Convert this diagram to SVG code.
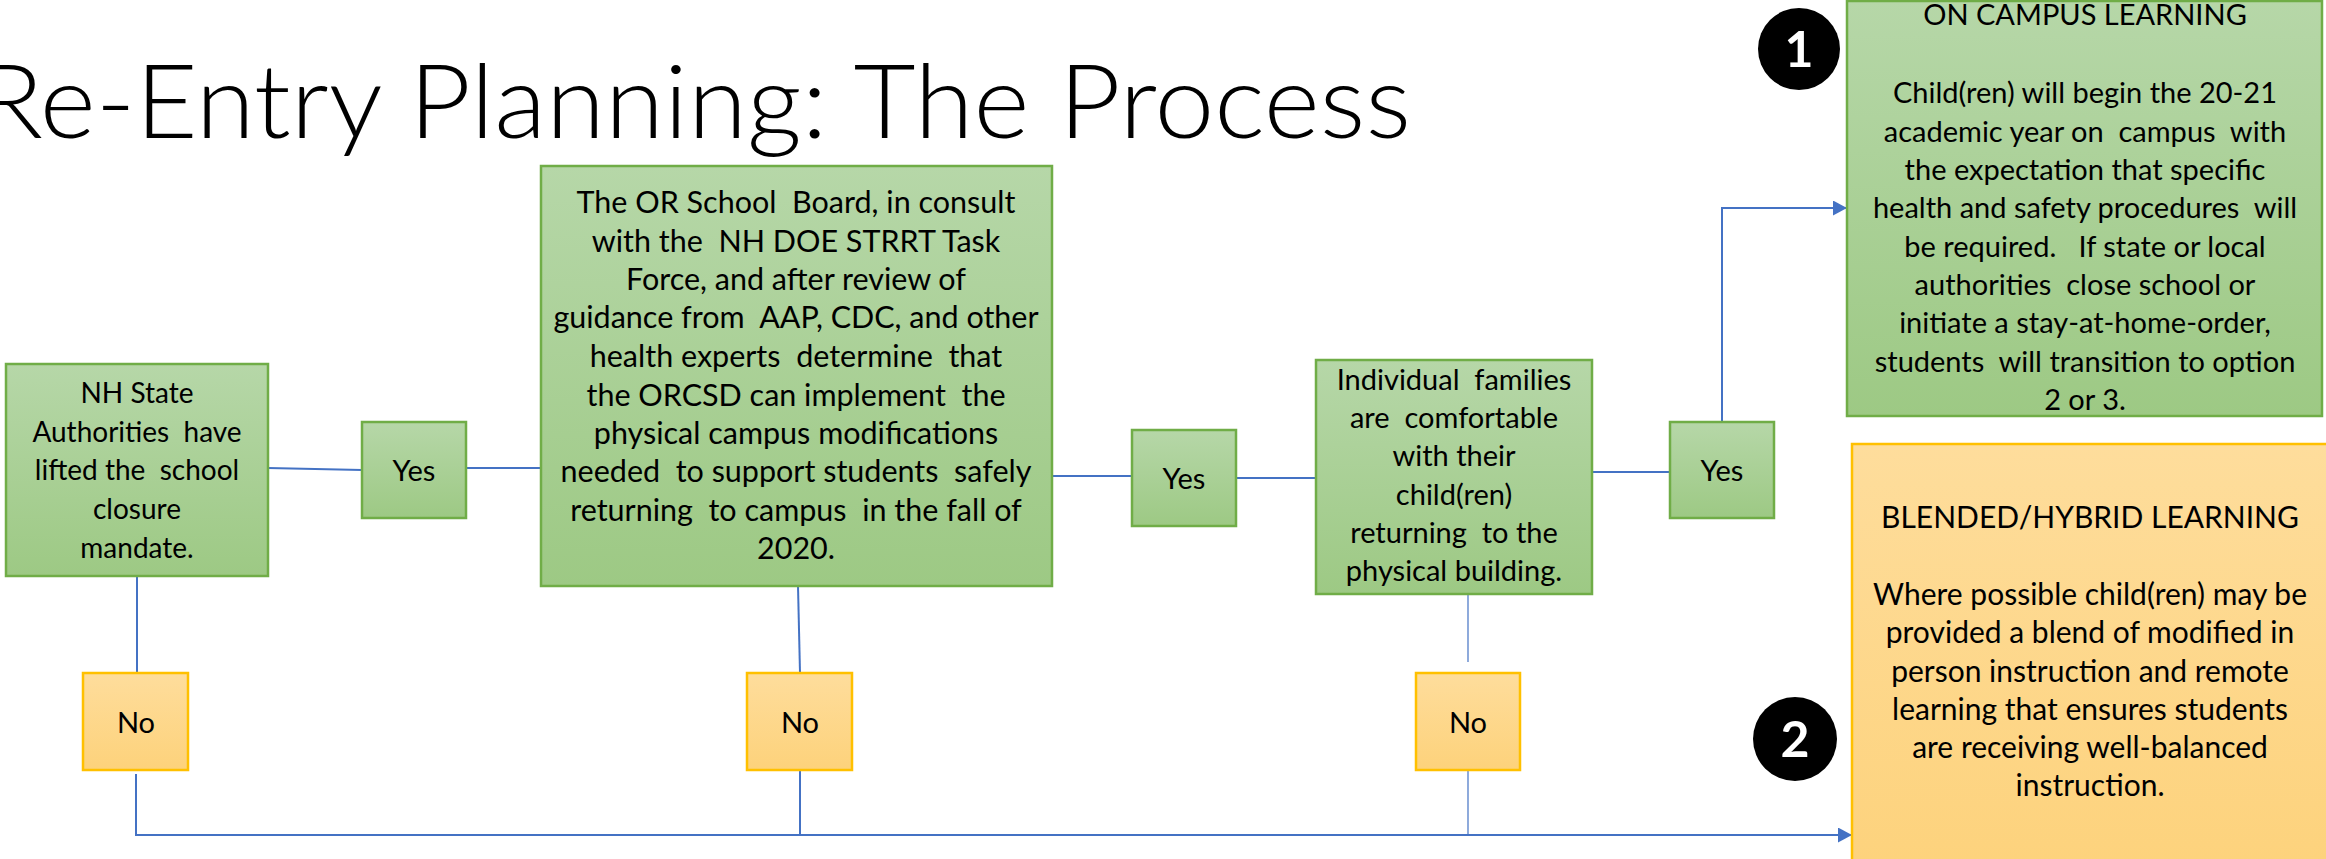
<svg xmlns="http://www.w3.org/2000/svg" width="2326" height="859" viewBox="0 0 2326 859">
<style>
.g{fill:url(#gg);stroke:#70ad47;stroke-width:2.5}
.o{fill:url(#og);stroke:#ffc000;stroke-width:2.5}
.t{font-family:Lato,"Liberation Sans",sans-serif;font-size:29px;fill:#000;text-anchor:middle;white-space:pre}
.c{fill:none;stroke:#4472c4;stroke-width:2}
.num{font-family:Lato,"Liberation Sans",sans-serif;font-size:50px;font-weight:bold;fill:#fff;text-anchor:middle}
.title{font-family:Lato,"Liberation Sans",sans-serif;font-weight:300;font-size:102px;fill:#000}
</style>
<defs>
<linearGradient id="gg" x1="0" y1="0" x2="0" y2="1"><stop offset="0" stop-color="#b6d7a8"/><stop offset="1" stop-color="#9dc984"/></linearGradient>
<linearGradient id="og" x1="0" y1="0" x2="0" y2="1"><stop offset="0" stop-color="#fedd9c"/><stop offset="1" stop-color="#fdd27b"/></linearGradient>
<marker id="ar" viewBox="0 0 14 15" refX="14" refY="7.5" markerWidth="14" markerHeight="15" markerUnits="userSpaceOnUse" orient="auto"><path d="M0 0L14 7.5L0 15z" fill="#4472c4"/></marker>
</defs>
<rect width="2326" height="859" fill="#fff"/>
<text class="title" x="-22" y="138" textLength="1433" lengthAdjust="spacingAndGlyphs">Re-Entry Planning: The Process</text>

<g id="connectors">
<path class="c" d="M268 468L362 470"/>
<path class="c" d="M466 468H541"/>
<path class="c" d="M1052 476H1132"/>
<path class="c" d="M1236 478H1316"/>
<path class="c" d="M1592 472H1670"/>
<path class="c" d="M1722 422V208H1847" marker-end="url(#ar)"/>
<path class="c" d="M137 576V673"/>
<path class="c" d="M798 586L800 673"/>
<path class="c" d="M1468 594V662" style="stroke-width:1.2"/>
<path class="c" d="M136 774V835H1852" marker-end="url(#ar)"/>
<path class="c" d="M800 770V835"/>
<path class="c" d="M1468 770V835" style="stroke-width:1.2"/>
</g>

<g id="n1">
<rect class="g" x="6" y="364" width="262" height="212"/>
<text class="t" style="font-size:28px"><tspan x="137" y="403">NH State</tspan><tspan x="137" y="442">Authorities  have</tspan><tspan x="137" y="480">lifted the  school</tspan><tspan x="137" y="519">closure</tspan><tspan x="137" y="558">mandate.</tspan></text>
</g>
<g id="yes1">
<rect class="g" x="362" y="422" width="104" height="96"/>
<text class="t" x="414" y="481">Yes</text>
</g>
<g id="n2">
<rect class="g" x="541" y="166" width="511" height="420"/>
<text class="t" style="font-size:30.5px"><tspan x="796" y="213">The OR School  Board, in consult</tspan><tspan x="796" y="252">with the  NH DOE STRRT Task</tspan><tspan x="796" y="290">Force, and after review of</tspan><tspan x="796" y="328">guidance from  AAP, CDC, and other</tspan><tspan x="796" y="367">health experts  determine  that</tspan><tspan x="796" y="406">the ORCSD can implement  the</tspan><tspan x="796" y="444">physical campus modifications</tspan><tspan x="796" y="482">needed  to support students  safely</tspan><tspan x="796" y="521">returning  to campus  in the fall of</tspan><tspan x="796" y="559">2020.</tspan></text>
</g>
<g id="yes2">
<rect class="g" x="1132" y="430" width="104" height="96"/>
<text class="t" x="1184" y="489">Yes</text>
</g>
<g id="n3">
<rect class="g" x="1316" y="360" width="276" height="234"/>
<text class="t"><tspan x="1454" y="390">Individual  families</tspan><tspan x="1454" y="428">are  comfortable</tspan><tspan x="1454" y="466">with their</tspan><tspan x="1454" y="505">child(ren)</tspan><tspan x="1454" y="543">returning  to the</tspan><tspan x="1454" y="581">physical building.</tspan></text>
</g>
<g id="yes3">
<rect class="g" x="1670" y="422" width="104" height="96"/>
<text class="t" x="1722" y="481">Yes</text>
</g>
<g id="no1">
<rect class="o" x="83" y="673" width="105" height="97"/>
<text class="t" x="136" y="733">No</text>
</g>
<g id="no2">
<rect class="o" x="747" y="673" width="105" height="97"/>
<text class="t" x="800" y="733">No</text>
</g>
<g id="no3">
<rect class="o" x="1416" y="673" width="104" height="97"/>
<text class="t" x="1468" y="733">No</text>
</g>
<g id="n4">
<rect class="g" x="1847" y="1" width="475" height="415"/>
<text class="t"><tspan x="2085" y="25">ON CAMPUS LEARNING</tspan><tspan x="2085" y="103">Child(ren) will begin the 20-21</tspan><tspan x="2085" y="142">academic year on  campus  with</tspan><tspan x="2085" y="180">the expectation that specific</tspan><tspan x="2085" y="218">health and safety procedures  will</tspan><tspan x="2085" y="257">be required.   If state or local</tspan><tspan x="2085" y="295">authorities  close school or</tspan><tspan x="2085" y="333">initiate a stay-at-home-order,</tspan><tspan x="2085" y="372">students  will transition to option</tspan><tspan x="2085" y="410">2 or 3.</tspan></text>
</g>
<g id="n5">
<rect class="o" x="1852" y="444" width="490" height="440"/>
<text class="t" style="font-size:30px"><tspan x="2090" y="528">BLENDED/HYBRID LEARNING</tspan><tspan x="2090" y="605">Where possible child(ren) may be</tspan><tspan x="2090" y="643">provided a blend of modified in</tspan><tspan x="2090" y="682">person instruction and remote</tspan><tspan x="2090" y="720">learning that ensures students</tspan><tspan x="2090" y="758">are receiving well-balanced</tspan><tspan x="2090" y="796">instruction.</tspan></text>
</g>
<g id="badge1">
<circle cx="1799" cy="49" r="41" fill="#000"/>
<text class="num" x="1799" y="67">1</text>
</g>
<g id="badge2">
<circle cx="1795" cy="739" r="42" fill="#000"/>
<text class="num" x="1795" y="757">2</text>
</g>
</svg>
